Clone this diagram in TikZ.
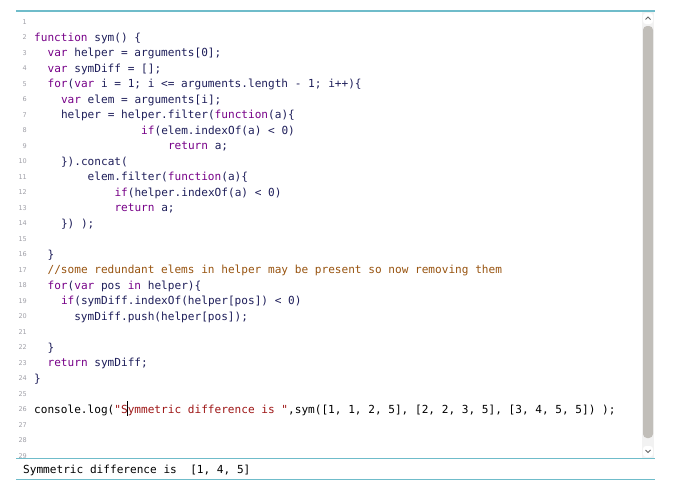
\documentclass[tikz,border=0pt]{standalone}
\usepackage{fontspec}
\setmonofont{DejaVu Sans Mono}
\setsansfont{DejaVu Sans}
\usepackage{xcolor}
\usepackage{tikz}
\definecolor{kwcol}{HTML}{770088}
\definecolor{codecol}{HTML}{1E1E5A}
\definecolor{cmtcol}{HTML}{985410}
\definecolor{strcol}{HTML}{9E1616}
\definecolor{numcol}{HTML}{A0A0A8}
\definecolor{framecol}{HTML}{6FBCCA}
\definecolor{thumbcol}{HTML}{C1BEB9}
\newcommand{\kw}[1]{\textcolor{kwcol}{#1}}
\newcommand{\cmt}[1]{\textcolor{cmtcol}{#1}}
\newcommand{\strg}[1]{\textcolor{strcol}{#1}}
\tikzset{
  code/.style={anchor=base west, inner sep=0pt, text=codecol, font=\ttfamily\fontsize{11.1}{13}\selectfont},
  lineno/.style={anchor=base east, inner sep=0pt, text=numcol, font=\sffamily\fontsize{6.5}{8}\selectfont},
}

\begin{document}
\begin{tikzpicture}[x=1pt,y=-1pt]
            \useasboundingbox[fill=white] (0,0) rectangle (690,488);
            % scrollbar
            \fill[gray!10] (642,12) rectangle (654,458);
            \fill[thumbcol, rounded corners=4pt] (643,26) rectangle (653,438);
            \fill[white, rounded corners=3pt] (643,13) rectangle (653,24) (643,446) rectangle (653,457);
            \draw[gray!80!black, line width=0.9pt] (645.5,19.5) -- (648,17) -- (650.5,19.5);
            \draw[gray!80!black, line width=0.9pt] (645.5,450) -- (648,452.5) -- (650.5,450);
            % frame lines
            \draw[framecol, line width=2pt] (16,11) -- (655,11);
            \draw[framecol, line width=1.4pt] (16,458.5) -- (655,458.5) (16,479.5) -- (655,479.5);
            % line numbers
            \foreach \n in {1,...,29}
                \node[lineno] (n\n) at (27,{24+(\n-1)*15.5}) {\n};
            % code
            \node[code] (l2) at (34,41) {\kw{function} sym() \{};
            \node[code] (l3) at (47.4,56.5) {\kw{var} helper = arguments[0];};
            \node[code] (l4) at (47.4,72) {\kw{var} symDiff = [];};
            \node[code] (l5) at (47.4,87.5) {\kw{for}(\kw{var} i = 1; i <= arguments.length - 1; i++)\{};
            \node[code] (l6) at (60.8,103) {\kw{var} elem = arguments[i];};
            \node[code] (l7) at (60.8,118.5) {helper = helper.filter(\kw{function}(a)\{};
            \node[code] (l8) at (141,134) {\kw{if}(elem.indexOf(a) < 0)};
            \node[code] (l9) at (167.8,149.5) {\kw{return} a;};
            \node[code] (l10) at (60.8,165) {\}).concat(};
            \node[code] (l11) at (87.5,180.5) {elem.filter(\kw{function}(a)\{};
            \node[code] (l12) at (114.3,196) {\kw{if}(helper.indexOf(a) < 0)};
            \node[code] (l13) at (114.3,211.5) {\kw{return} a;};
            \node[code] (l14) at (60.8,227) {\}) );};
            \node[code] (l16) at (47.4,258) {\}};
            \node[code] (l17) at (47.4,273.5) {\cmt{//some redundant elems in helper may be present so now removing them}};
            \node[code] (l18) at (47.4,289) {\kw{for}(\kw{var} pos \kw{in} helper)\{};
            \node[code] (l19) at (60.8,304.5) {\kw{if}(symDiff.indexOf(helper[pos]) < 0)};
            \node[code] (l20) at (74.1,320) {symDiff.push(helper[pos]);};
            \node[code] (l22) at (47.4,351) {\}};
            \node[code] (l23) at (47.4,366.5) {\kw{return} symDiff;};
            \node[code] (l24) at (34,382) {\}};
            \node[code, text=black] (l26) at (34,413) {console.log(\strg{"Symmetric difference is "},sym([1, 1, 2, 5], [2, 2, 3, 5], [3, 4, 5, 5]) );};
            % cursor
            \draw[black, line width=0.8pt] (127.6,401) -- (127.6,416);
            % output
            \node[code, text=black] (out) at (23,473) {Symmetric difference is \ [1, 4, 5]};
        \end{tikzpicture}
\end{document}
